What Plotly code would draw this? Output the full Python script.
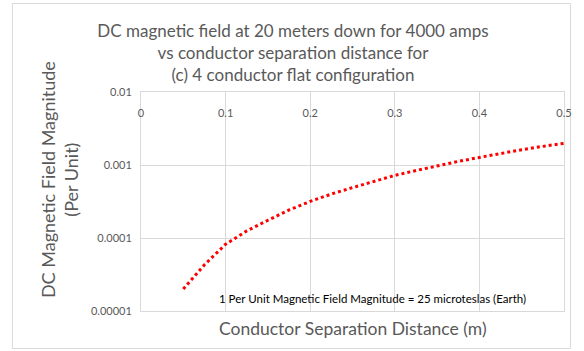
import plotly.graph_objects as go

# Data
separation_m = [0.05, 0.075, 0.1, 0.125, 0.15, 0.175, 0.2, 0.225, 0.25, 0.275,
                0.3, 0.325, 0.35, 0.375, 0.4, 0.425, 0.45, 0.475, 0.5]
field_pu = [2.0e-5, 4.3e-5, 8.2e-5, 1.25e-4, 1.75e-4, 2.42e-4, 3.17e-4, 4.0e-4,
            4.9e-4, 6.0e-4, 7.2e-4, 8.4e-4, 9.8e-4, 1.12e-3, 1.27e-3, 1.44e-3,
            1.62e-3, 1.8e-3, 1.98e-3]

x_tickvals = [0, 0.1, 0.2, 0.3, 0.4, 0.5]
x_ticktext = ["0", "0.1", "0.2", "0.3", "0.4", "0.5"]
y_tickvals = [1e-5, 1e-4, 1e-3, 1e-2]
y_ticktext = ["0.00001", "0.0001", "0.001", "0.01"]

title_text = ("DC magnetic field at 20 meters down for 4000 amps<br>"
              "vs conductor separation distance for<br>"
              "(c) 4 conductor flat configuration")
x_title = "Conductor Separation Distance (m)"
y_title = "DC Magnetic Field Magnitude<br>(Per Unit)"
note_text = "1 Per Unit Magnetic Field Magnitude = 25 microteslas (Earth)"

FONT = "Lato"
GRAY = "#595959"
GRID = "#d9d9d9"

fig = go.Figure()
fig.add_trace(go.Scatter(
    x=separation_m, y=field_pu, mode="lines",
    line=dict(color="#ff0000", width=3, dash="dot"),
    showlegend=False, hoverinfo="skip",
))

W, H = 584, 351
L, R, T, B = 141, 17, 92, 40
pw, ph = W - L - R, H - T - B

def px(xp):
    return (xp - L) / pw

def py(yp):
    return (H - B - yp) / ph

fig.update_layout(
    width=W, height=H,
    margin=dict(l=L, r=R, t=T, b=B),
    paper_bgcolor="white", plot_bgcolor="white",
    font=dict(family=FONT, color=GRAY),
    title=dict(text=title_text, x=293 / W, xref="container", xanchor="center",
               y=1 - 37 / H, yref="container", yanchor="top",
               font=dict(family=FONT, size=17, color=GRAY)),
    xaxis=dict(range=[0, 0.5], side="top", tickvals=x_tickvals, ticktext=x_ticktext,
               ticklabelposition="inside", ticklabeloverflow="allow",
               ticks="", showgrid=True, gridcolor=GRID, gridwidth=1,
               showline=True, linecolor=GRID, linewidth=1, mirror=True,
               zeroline=False, tickfont=dict(family=FONT, size=11, color=GRAY),
               ticklabelstandoff=17),
    yaxis=dict(type="log", range=[-5, -2], tickvals=y_tickvals, ticktext=y_ticktext,
               ticks="", showgrid=True, gridcolor=GRID, gridwidth=1,
               showline=True, linecolor=GRID, linewidth=1, mirror=True,
               zeroline=False, tickfont=dict(family=FONT, size=11, color=GRAY),
               ticklabelstandoff=6),
    annotations=[
        dict(text=x_title, xref="paper", yref="paper", x=px(354), y=py(328),
             xanchor="center", yanchor="middle", showarrow=False,
             font=dict(family=FONT, size=17.5, color=GRAY)),
        dict(text=y_title, xref="paper", yref="paper", x=px(58.5), y=py(180),
             xanchor="center", yanchor="middle", showarrow=False, textangle=-90,
             font=dict(family=FONT, size=18, color=GRAY)),
        dict(text=note_text, xref="paper", yref="paper", x=px(374), y=py(298),
             xanchor="center", yanchor="middle", showarrow=False,
             font=dict(family=FONT, size=11.5, color="#000000")),
    ],
    shapes=[
        dict(type="rect", xref="paper", yref="paper",
             x0=px(11.5), x1=px(573.5), y0=py(348.5), y1=py(3.5),
             line=dict(color=GRID, width=1), fillcolor="rgba(0,0,0,0)", layer="below"),
    ],
)

fig.write_html("out.html", config={"displayModeBar": False},
               post_script="document.body.style.margin='0';")
